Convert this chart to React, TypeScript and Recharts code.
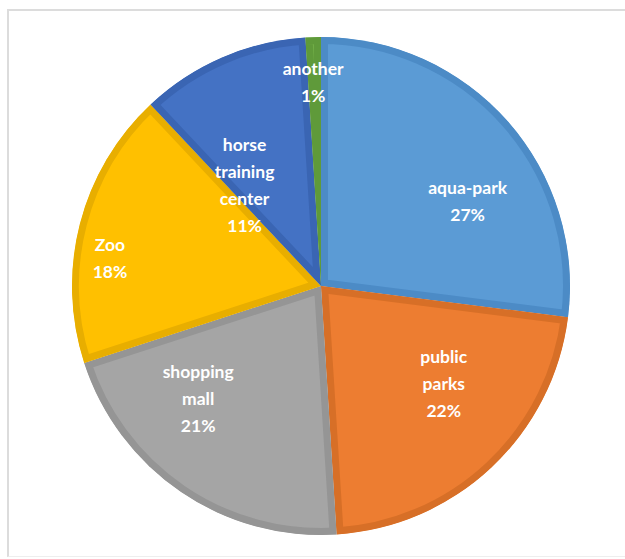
import React from "react";
import { PieChart, Pie, Cell, Sector } from "recharts";

const categories = ["aqua-park", "public parks", "shopping mall", "Zoo", "horse training center", "another"];
const shares = [27, 22, 21, 18, 11, 1];
const labelLines = [["aqua-park"], ["public", "parks"], ["shopping", "mall"], ["Zoo"], ["horse", "training", "center"], ["another"]];

const fills = ["#5B9BD5", "#ED7D31", "#A5A5A5", "#FFC000", "#4472C4", "#70AD47"];
const borders = ["#4C8BC6", "#D76F27", "#959595", "#E8AE00", "#3A65B3", "#5F9A3A"];
// label placement tweaks (angle shift in degrees clockwise, radius fraction)
const labelShift = [11.4, -8.3, 13.2, -6.8, -13.6, -0.4];
const labelRadius = [0.68, 0.63, 0.67, 0.855, 0.51, 0.82];

const data = categories.map((name, i) => ({ name, value: shares[i], idx: i }));

const RAD = Math.PI / 180;

const renderShape = (props: any) => {
  const { cx, cy, innerRadius, outerRadius, startAngle, endAngle, fill, stroke } = props;
  const id = `clip-${Math.round(startAngle * 100)}-${Math.round(endAngle * 100)}`.replace(/[^a-zA-Z0-9-]/g, "m");
  return (
    <g>
      <defs>
        <clipPath id={id}>
          <Sector cx={cx} cy={cy} innerRadius={innerRadius} outerRadius={outerRadius} startAngle={startAngle} endAngle={endAngle} />
        </clipPath>
      </defs>
      <Sector
        cx={cx}
        cy={cy}
        innerRadius={innerRadius}
        outerRadius={outerRadius}
        startAngle={startAngle}
        endAngle={endAngle}
        fill={fill}
        stroke={stroke}
        strokeWidth={14}
        clipPath={`url(#${id})`}
      />
    </g>
  );
};

const renderLabel = (props: any) => {
  const { cx, cy, midAngle, outerRadius, payload } = props;
  const i = payload && payload.idx !== undefined ? payload.idx : props.index;
  const ang = midAngle - labelShift[i];
  const r = outerRadius * labelRadius[i];
  const x = cx + r * Math.cos(-ang * RAD);
  const y = cy + r * Math.sin(-ang * RAD);
  const lines = [...labelLines[i], `${shares[i]}%`];
  const lh = 27;
  return (
    <text
      x={x}
      y={y}
      textAnchor="middle"
      fill="#ffffff"
      fontFamily="Lato, 'Open Sans', sans-serif"
      fontWeight="bold"
      fontSize={17.5}
    >
      {lines.map((t, k) => (
        <tspan key={k} x={x} y={y + (k - (lines.length - 1) / 2) * lh} dominantBaseline="central">
          {t}
        </tspan>
      ))}
    </text>
  );
};

export default function App() {
  return (
    <div style={{ position: "absolute", left: 0, top: 0, width: 625, height: 559, overflow: "hidden", background: "#fff" }}>
      <div
        style={{
          position: "absolute",
          left: 7,
          top: 9,
          width: 700,
          height: 548,
          borderTop: "2px solid #dcdcdc",
          borderLeft: "2px solid #dcdcdc",
          borderBottom: "1px solid #eeeeee",
          borderRight: "none",
          boxSizing: "border-box",
        }}
      />
      <div style={{ position: "absolute", left: 0, top: 0 }}>
        <PieChart width={625} height={559} margin={{ top: 0, right: 0, bottom: 0, left: 0 }}>
          <Pie
            data={data}
            dataKey="value"
            nameKey="name"
            cx={321}
            cy={286}
            outerRadius={249}
            startAngle={90}
            endAngle={-270}
            isAnimationActive={false}
            labelLine={false}
            label={renderLabel}
            shape={renderShape}
            stroke="none"
          >
            {data.map((d, i) => (
              <Cell key={d.name} fill={fills[i]} stroke={borders[i]} />
            ))}
          </Pie>
        </PieChart>
      </div>
    </div>
  );
}
